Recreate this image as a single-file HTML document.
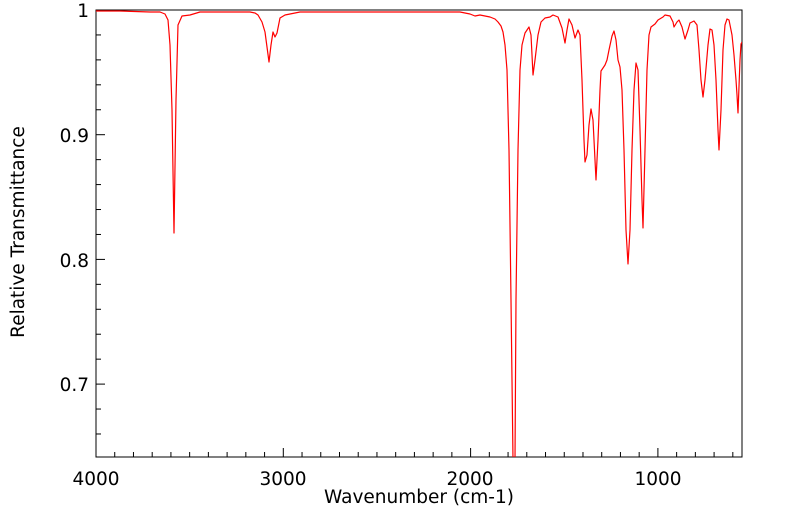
<!DOCTYPE html>
<html><head><style>body{margin:0;background:#fff}svg{display:block}text{font-family:"DejaVu Sans","Liberation Sans",sans-serif;font-size:18.5px;fill:#000}</style></head><body>
<svg width="799" height="516" viewBox="0 0 799 516">
<defs><clipPath id="c"><rect x="96" y="10" width="646" height="447"/></clipPath></defs>
<rect x="96" y="10" width="646" height="447" fill="none" stroke="#000" stroke-width="1"/>
<g stroke="#000" stroke-width="1" id="ticks"></g>
<polyline clip-path="url(#c)" fill="none" stroke="#f00" stroke-width="1.2" stroke-linejoin="round" points="96,11 120,11 150,12 160,12 165,14 168,20 170,45 172,110 174,233 176,100 178,25 182,16 190,15 200,12 220,12 250,12 255,13 258,15 262,22 265,32 269,62 271,45 273,32 275,37 277,33 280,18 285,15 290,14 300,12 350,12 400,12 440,12 460,12 465,13 470,14 475,16 480,15 485,16 490,17 495,19 498,22 501,26 503,32 505,45 507,70 509,150 511,300 513,460 515,460 516,300 518,150 520,70 522,45 525,33 527,30 529,27 531,35 533,75 535,60 538,35 541,22 545,18 550,17 553,15 558,17 562,28 565,43 567,30 569,19 572,25 575,38 578,30 580,35 582,80 584,140 585,162 587,155 589,125 591,109 593,120 595,160 596,180 598,140 600,90 601,71 605,65 607,60 609,50 612,36 614,31 616,40 618,60 620,67 622,90 624,150 626,230 628,264 630,230 632,150 634,90 636,63 638,70 640,130 642,200 643,228 645,150 647,70 649,35 651,27 655,24 658,20 663,17 665,15 670,16 673,22 674,27 677,22 679,20 682,27 685,39 688,30 690,23 694,21 697,25 699,50 701,80 703,97 705,80 708,45 710,29 712,30 714,45 716,80 718,130 719,150 721,110 723,50 725,25 727,19 729,20 732,35 734,55 736,80 737,95 738,113 740,60 741,44 742,42"/>
<g text-anchor="end">
<text x="89" y="17">1</text><text x="89" y="142">0.9</text><text x="89" y="267">0.8</text><text x="89" y="391">0.7</text>
</g>
<g text-anchor="middle">
<text x="96" y="485">4000</text><text x="283" y="485">3000</text><text x="470" y="485">2000</text><text x="658" y="485">1000</text>
<text x="419" y="503">Wavenumber (cm-1)</text>
<text transform="translate(24,232) rotate(-90)">Relative Transmittance</text>
</g>
</svg>
<script>
var g=document.getElementById('ticks'),s='';
for(var w=4000;w>=600;w-=100){var x=96+(4000-w)*0.1873;var big=w%1000==0;s+='<line x1="'+x+'" y1="457" x2="'+x+'" y2="'+(457-(big?9:5))+'"/>';}
for(var i=0;i<=17;i++){var v=1-i*0.02;var y=10+(1-v)*1247;if(y>457)break;var big=i%5==0;s+='<line x1="96" y1="'+y+'" x2="'+(96+(big?9:5))+'" y2="'+y+'"/>';}
g.innerHTML=s;
</script>
</body></html>
